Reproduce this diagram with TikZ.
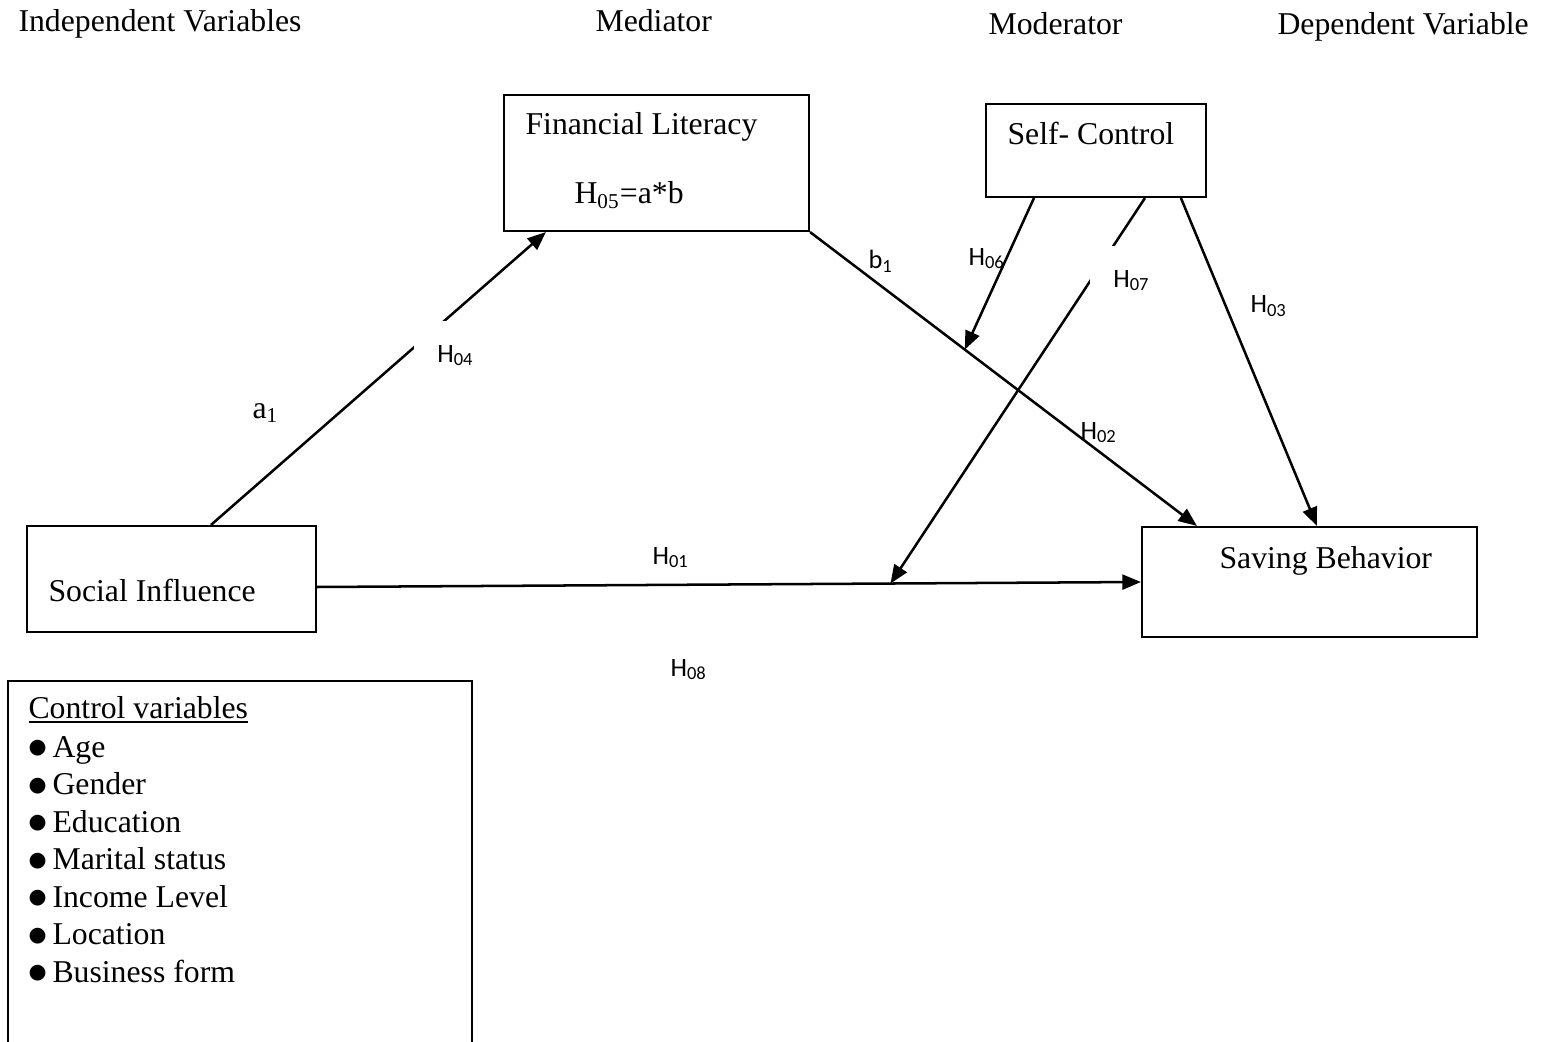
\documentclass[tikz,border=0pt]{standalone}
\usepackage{fontspec}
\setmainfont{Liberation Serif}
\newfontfamily\calibri{Carlito}
\newfontfamily\dejavu{DejaVu Sans}
\usetikzlibrary{calc,arrows.meta}
\newlength{\unitpx}
\setlength{\unitpx}{0.378pt}
\newcommand{\bul}{\makebox[24\unitpx][l]{\raisebox{1.4pt}{\dejavu\fontsize{7.8}{9}\selectfont ●}}}
\tikzset{
  box/.style={draw=black, line width=0.8pt, inner sep=0pt},
  txt/.style={font=\fontsize{12}{14}\selectfont, inner sep=0pt, anchor=base west},
  list/.style={font=\fontsize{12}{14.175}\selectfont, inner sep=0pt, align=left, anchor=north west},
  hyp/.style={font=\calibri\fontsize{10}{12}\selectfont, inner sep=0pt, anchor=base west},
  hypbox/.style={hyp, fill=white, inner sep=9pt},
  conn/.style={draw=black, line width=0.95pt, -{Triangle[length=7pt,width=5.6pt]}},
}
\begin{document}
\begin{tikzpicture}[x=\unitpx, y=-\unitpx]
  \path[use as bounding box, clip] (0,0) rectangle (1542,1042);
  \node[txt] (hind) at (18,32) {Independent Variables};
  \node[txt] (hmed) at (595,32) {Mediator};
  \node[txt] (hmod) at (988,35) {Moderator};
  \node[txt] (hdep) at (1277,35) {Dependent Variable};
  \node[box, minimum width=289*\unitpx, minimum height=106*\unitpx] (si) at (171.5,579) {};
  \node[box, minimum width=305*\unitpx, minimum height=136*\unitpx] (fl) at (656.5,163) {};
  \node[box, minimum width=220*\unitpx, minimum height=93*\unitpx] (sc) at (1096,150.5) {};
  \node[box, minimum width=335*\unitpx, minimum height=110*\unitpx] (sb) at (1309.5,582) {};
  \node[box, minimum width=464*\unitpx, minimum height=400*\unitpx, anchor=north west] (ctrl) at (7,680) {};
  \node[txt] (sit) at (48,601) {Social Influence};
  \node[txt] (flt) at (525,135) {Financial Literacy};
  \node[txt] (flh) at (574,204) {H\textsubscript{05}=a*b};
  \node[txt] (sct) at (1007,145) {Self- Control};
  \node[txt] (sbt) at (1219,568) {Saving Behavior};
  \node[txt] (cvt) at (28,718) {\underline{Control variables}};
  \node[list] (cvlist) at (28,736) {\bul Age\\ \bul Gender\\ \bul Education\\ \bul Marital status\\
    \bul Income Level\\ \bul Location\\ \bul Business form};
  \coordinate (m6) at ($(fl.south east)!0.40!([shift={(56,0)}]sb.north west)$);
  \coordinate (m7) at ($([shift={(0,8)}]si.east)!0.696!(sb.west)$);
  \draw[conn] ([shift={(185,0)}]si.north west) -- ([shift={(43,0)}]fl.south west);
  \draw[conn] (fl.south east) -- ([shift={(56,0)}]sb.north west);
  \draw[conn] ([shift={(0,8)}]si.east) -- (sb.west);
  \draw[conn] ([shift={(49,0)}]sc.south west) -- (m6);
  \draw[conn] ([shift={(160,0)}]sc.south west) -- (m7);
  \draw[conn] ([shift={(196,0)}]sc.south west) -- ([shift={(176,0)}]sb.north west);
  \node[hypbox] (h04) at (413,362) {H\textsubscript{04}}; % covers part of the a1 path
  \node[hypbox] (h07) at (1089,287) {H\textsubscript{07}};
  \node[hyp] (h01) at (652,564) {H\textsubscript{01}};
  \node[hyp] (h02) at (1080,439) {H\textsubscript{02}};
  \node[hyp] (h03) at (1250,313) {H\textsubscript{03}};
  \node[hyp] (h06) at (968,265) {H\textsubscript{06}};
  \node[hyp] (h08) at (670,676) {H\textsubscript{08}};
  \node[hyp] (b1) at (868,269) {b\textsubscript{1}};
  \node[txt] (a1) at (252,418) {a\textsubscript{1}};
\end{tikzpicture}
\end{document}
